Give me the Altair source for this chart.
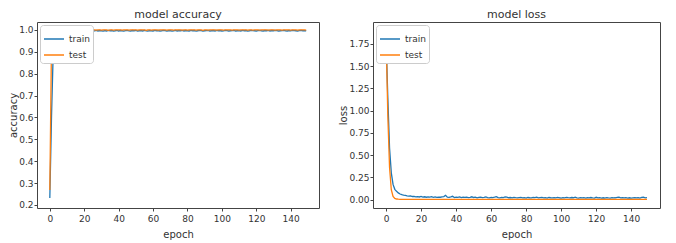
import altair as alt
import pandas as pd

epochs = list(range(150))

acc_train = [0.232, 0.610, 0.905, 0.968, 0.982, 0.988, 0.991, 0.993, 0.994, 0.995,
    0.996, 0.995, 0.997, 0.996, 0.998, 0.995, 0.997, 0.996, 0.994, 0.997,
    0.996, 0.998, 0.995, 0.996, 0.997, 0.993, 0.996, 0.998, 0.995, 0.997,
    0.996, 0.994, 0.997, 0.995, 0.998, 0.996, 0.997, 0.995, 0.996, 0.998,
    0.995, 0.997, 0.996, 0.994, 0.997, 0.998, 0.996, 0.995, 0.997, 0.996,
    0.998, 0.995, 0.996, 0.997, 0.995, 0.998, 0.996, 0.994, 0.997, 0.996,
    0.995, 0.998, 0.996, 0.997, 0.995, 0.996, 0.998, 0.997, 0.995, 0.996,
    0.997, 0.994, 0.996, 0.998, 0.995, 0.997, 0.996, 0.998, 0.995, 0.997,
    0.996, 0.995, 0.998, 0.996, 0.997, 0.994, 0.996, 0.998, 0.997, 0.995,
    0.996, 0.997, 0.998, 0.995, 0.996, 0.997, 0.995, 0.998, 0.996, 0.997,
    0.995, 0.996, 0.998, 0.997, 0.995, 0.996, 0.997, 0.998, 0.995, 0.996,
    0.997, 0.995, 0.998, 0.996, 0.997, 0.995, 0.996, 0.998, 0.997, 0.996,
    0.995, 0.997, 0.998, 0.996, 0.995, 0.997, 0.996, 0.998, 0.995, 0.997,
    0.996, 0.998, 0.997, 0.995, 0.996, 0.997, 0.998, 0.996, 0.995, 0.997,
    0.996, 0.998, 0.997, 0.996, 0.995, 0.997, 0.998, 0.996, 0.997, 0.996]

acc_test = [0.268, 0.955, 0.991, 0.997, 0.999, 1.000, 1.000, 0.999, 1.000, 1.000,
    1.000, 0.999, 1.000, 1.000, 1.000, 0.999, 1.000, 1.000, 0.998, 1.000,
    1.000, 1.000, 0.999, 1.000, 1.000, 1.000, 1.000, 0.999, 1.000, 1.000,
    0.999, 1.000, 1.000, 1.000, 0.998, 1.000, 1.000, 0.999, 1.000, 1.000,
    1.000, 1.000, 0.999, 1.000, 1.000, 1.000, 0.999, 1.000, 1.000, 1.000,
    1.000, 0.999, 1.000, 1.000, 1.000, 1.000, 0.998, 1.000, 1.000, 0.999,
    1.000, 1.000, 1.000, 0.999, 1.000, 1.000, 1.000, 1.000, 0.999, 1.000,
    1.000, 1.000, 0.999, 1.000, 1.000, 1.000, 1.000, 0.999, 1.000, 1.000,
    0.999, 1.000, 1.000, 1.000, 1.000, 0.999, 1.000, 1.000, 1.000, 0.998,
    1.000, 1.000, 0.999, 1.000, 1.000, 1.000, 1.000, 0.999, 1.000, 1.000,
    1.000, 0.999, 1.000, 1.000, 1.000, 1.000, 0.999, 1.000, 1.000, 1.000,
    0.999, 1.000, 1.000, 1.000, 1.000, 0.999, 1.000, 1.000, 0.999, 1.000,
    1.000, 1.000, 0.999, 1.000, 1.000, 1.000, 1.000, 0.999, 1.000, 1.000,
    1.000, 0.999, 1.000, 1.000, 1.000, 0.999, 1.000, 1.000, 1.000, 1.000,
    0.999, 1.000, 1.000, 1.000, 0.999, 1.000, 1.000, 1.000, 1.000, 0.999]

loss_train = [1.82, 1.15, 0.58, 0.30, 0.17, 0.115, 0.092, 0.075, 0.062, 0.055,
    0.050, 0.046, 0.041, 0.038, 0.042, 0.034, 0.036, 0.031, 0.033, 0.029,
    0.035, 0.028, 0.031, 0.026, 0.030, 0.027, 0.032, 0.025, 0.029, 0.024,
    0.028, 0.026, 0.030, 0.033, 0.048, 0.027, 0.024, 0.029, 0.036, 0.022,
    0.027, 0.025, 0.030, 0.021, 0.026, 0.024, 0.028, 0.022, 0.025, 0.031,
    0.023, 0.026, 0.020, 0.024, 0.027, 0.021, 0.025, 0.030, 0.022, 0.019,
    0.024, 0.021, 0.026, 0.033, 0.022, 0.019, 0.024, 0.021, 0.029, 0.026,
    0.020, 0.023, 0.019, 0.025, 0.021, 0.018, 0.022, 0.024, 0.019, 0.021,
    0.017, 0.023, 0.020, 0.018, 0.024, 0.021, 0.026, 0.019, 0.022, 0.025,
    0.018, 0.021, 0.017, 0.023, 0.020, 0.018, 0.022, 0.019, 0.024, 0.020,
    0.017, 0.022, 0.019, 0.025, 0.021, 0.018, 0.023, 0.020, 0.027, 0.019,
    0.016, 0.021, 0.018, 0.022, 0.017, 0.020, 0.018, 0.023, 0.019, 0.016,
    0.025, 0.018, 0.021, 0.017, 0.020, 0.016, 0.022, 0.019, 0.017, 0.021,
    0.018, 0.020, 0.024, 0.026, 0.019, 0.022, 0.018, 0.021, 0.017, 0.020,
    0.016, 0.019, 0.022, 0.018, 0.021, 0.017, 0.024, 0.026, 0.019, 0.022]

loss_test = [1.88, 0.95, 0.36, 0.11, 0.035, 0.012, 0.006, 0.004, 0.003, 0.002,
    0.002, 0.002, 0.002, 0.001, 0.002, 0.001, 0.001, 0.002, 0.001, 0.001,
    0.001, 0.001, 0.002, 0.001, 0.001, 0.001, 0.001, 0.001, 0.002, 0.001,
    0.001, 0.001, 0.001, 0.001, 0.001, 0.002, 0.001, 0.001, 0.001, 0.001,
    0.001, 0.001, 0.001, 0.002, 0.001, 0.001, 0.001, 0.001, 0.001, 0.001,
    0.001, 0.001, 0.001, 0.001, 0.001, 0.001, 0.002, 0.001, 0.001, 0.001,
    0.001, 0.001, 0.001, 0.001, 0.001, 0.001, 0.001, 0.001, 0.002, 0.001,
    0.001, 0.001, 0.001, 0.001, 0.001, 0.001, 0.001, 0.001, 0.001, 0.001,
    0.001, 0.001, 0.001, 0.001, 0.002, 0.001, 0.001, 0.001, 0.001, 0.001,
    0.001, 0.001, 0.001, 0.001, 0.001, 0.001, 0.001, 0.001, 0.001, 0.001,
    0.001, 0.001, 0.001, 0.001, 0.001, 0.001, 0.001, 0.001, 0.001, 0.001,
    0.001, 0.001, 0.001, 0.001, 0.001, 0.001, 0.001, 0.001, 0.001, 0.001,
    0.001, 0.001, 0.001, 0.001, 0.001, 0.001, 0.001, 0.001, 0.001, 0.001,
    0.001, 0.001, 0.001, 0.001, 0.001, 0.001, 0.001, 0.001, 0.001, 0.001,
    0.001, 0.001, 0.001, 0.001, 0.001, 0.001, 0.001, 0.001, 0.001, 0.001]

series = ["train", "test"]
colors = ["#1f77b4", "#ff7f0e"]
acc_ticks = [0.2, 0.3, 0.4, 0.5, 0.6, 0.7, 0.8, 0.9, 1.0]
loss_ticks = [0.0, 0.25, 0.5, 0.75, 1.0, 1.25, 1.5, 1.75]
epoch_ticks = [0, 20, 40, 60, 80, 100, 120, 140]

acc_df = pd.DataFrame({
    "epoch": epochs * 2,
    "value": acc_train + acc_test,
    "series": ["train"] * 150 + ["test"] * 150,
})
loss_df = pd.DataFrame({
    "epoch": epochs * 2,
    "value": loss_train + loss_test,
    "series": ["train"] * 150 + ["test"] * 150,
})

FONT = "DejaVu Sans"

def panel(df, title, ytitle, ydomain, yticks, yfmt, width, height, toff):
    return alt.Chart(df).mark_line(strokeWidth=1.3, clip=True).encode(
        x=alt.X("epoch:Q", scale=alt.Scale(domain=[-7.45, 156.45], nice=False, zero=False),
                axis=alt.Axis(values=epoch_ticks, title="epoch", format="d",
                              labelPadding=3, titlePadding=6)),
        y=alt.Y("value:Q", scale=alt.Scale(domain=ydomain, nice=False, zero=False),
                axis=alt.Axis(values=yticks, title=ytitle, format=yfmt,
                              labelPadding=1, titlePadding=0)),
        color=alt.Color("series:N", scale=alt.Scale(domain=series, range=colors),
                        sort=series,
                        legend=alt.Legend(title=None, orient="top-left")),
        order=alt.Order("epoch:Q"),
    ).properties(
        width=width, height=height,
        title=alt.TitleParams(title, fontSize=11, font=FONT, fontWeight="normal",
                              color="#333", offset=toff),
    )

left = panel(acc_df, "model accuracy", "accuracy", [0.186, 1.036], acc_ticks, ".1f", 282, 186, 2)
right = panel(loss_df, "model loss", "loss", [-0.095, 1.995], loss_ticks, ".2f", 287, 186, 2)

chart = alt.hconcat(left, right, spacing=18).resolve_scale(color="independent").resolve_legend(
    color="independent"
).configure(
    padding=0, background="white",
).configure_view(
    stroke="#444", strokeWidth=1, fill="white",
).configure_axis(
    grid=False, domain=False, tickColor="#444", tickSize=3,
    labelFont=FONT, labelFontSize=9, labelColor="#333",
    titleFont=FONT, titleFontSize=10, titleColor="#333", titleFontWeight="normal",
).configure_legend(
    fillColor="white", strokeColor="#ccc", cornerRadius=3, padding=3, offset=3,
    symbolType="stroke", symbolSize=400, symbolStrokeWidth=1.5,
    labelFont=FONT, labelFontSize=9, labelColor="#333", rowPadding=-1,
)

chart.save("out.html", embed_options={"renderer": "svg", "actions": False})
